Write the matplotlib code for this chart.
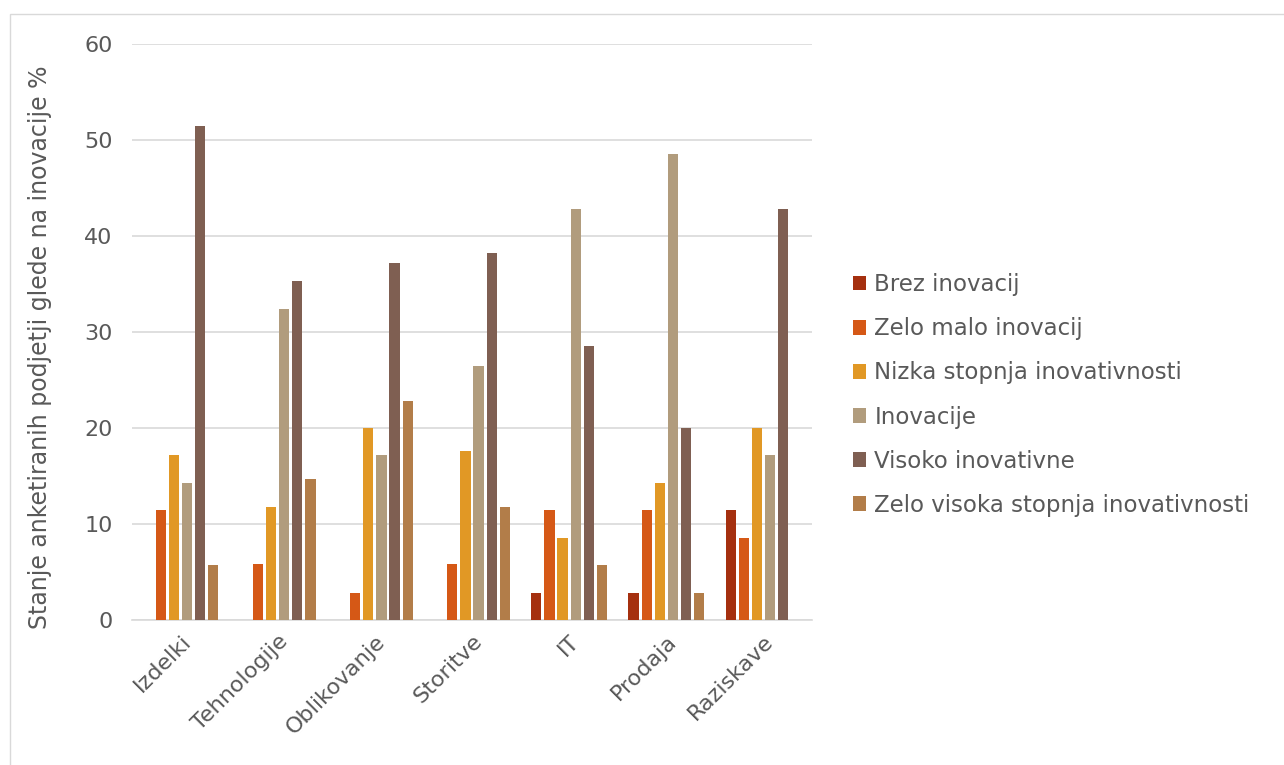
import matplotlib.pyplot as plt
import numpy as np
from matplotlib.patches import Rectangle

categories = ["Izdelki", "Tehnologije", "Oblikovanje", "Storitve", "IT", "Prodaja", "Raziskave"]
series_names = ["Brez inovacij", "Zelo malo inovacij", "Nizka stopnja inovativnosti",
                "Inovacije", "Visoko inovativne", "Zelo visoka stopnja inovativnosti"]

brez = [0, 0, 0, 0, 2.86, 2.86, 11.43]
zelo_malo = [11.43, 5.88, 2.86, 5.88, 11.43, 11.43, 8.57]
nizka = [17.14, 11.76, 20.0, 17.65, 8.57, 14.29, 20.0]
inovacije = [14.29, 32.35, 17.14, 26.47, 42.86, 48.57, 17.14]
visoko = [51.43, 35.29, 37.14, 38.24, 28.57, 20.0, 42.86]
zelo_visoka = [5.71, 14.71, 22.86, 11.76, 5.71, 2.86, 0]

colors = ["#A5300F", "#D55816", "#E19825", "#B19C7D", "#7F5F52", "#B27D49"]
values = [brez, zelo_malo, nizka, inovacije, visoko, zelo_visoka]

txt = "#595959"
plt.rcParams['font.family'] = ['DejaVu Sans']

fig = plt.figure(figsize=(12.84, 7.65), dpi=100)
# chart border (only top/left visible in the original)
fig.patches.append(Rectangle((10 / 1284, -0.1), 1.2, 1 - 14 / 765 + 0.1,
                             transform=fig.transFigure, fill=False,
                             edgecolor="#D9D9D9", linewidth=1))

ax = fig.add_axes([132 / 1284, 1 - 620 / 765, 680 / 1284, 576 / 765])

x = np.arange(len(categories))
pitch = 0.135
width = 0.105
for i, (name, vals) in enumerate(zip(series_names, values)):
    ax.bar(x + (i - 2.5) * pitch, vals, width, color=colors[i], label=name, zorder=3)

ax.set_xlim(-0.5, len(categories) - 0.5)
ax.set_ylim(0, 60)
ax.set_yticks(range(0, 61, 10))
ax.grid(axis="y", color="#D9D9D9", linewidth=1.2, zorder=0)
for s in ["top", "right", "left"]:
    ax.spines[s].set_visible(False)
ax.spines["bottom"].set_color("#D9D9D9")
ax.spines["bottom"].set_linewidth(1.2)
ax.tick_params(axis="both", length=0, labelsize=16, colors=txt, pad=8)
ax.tick_params(axis="y", pad=14)
ax.set_xticks(x)
ax.set_xticklabels(categories, rotation=45, ha="right", rotation_mode="anchor")
ax.set_ylabel("Stanje anketiranih podjetji glede na inovacije %", fontsize=17,
              color=txt)
ax.yaxis.set_label_coords(-0.117, 0.473)

ax.legend(loc="center left", bbox_to_anchor=(832 / 1284, 1 - 395 / 765), bbox_transform=fig.transFigure,
          frameon=False, fontsize=16.5, labelcolor=txt, handlelength=0.6, handleheight=0.6,
          handletextpad=0.35, labelspacing=0.92)

fig.savefig("out.png", dpi=100)
